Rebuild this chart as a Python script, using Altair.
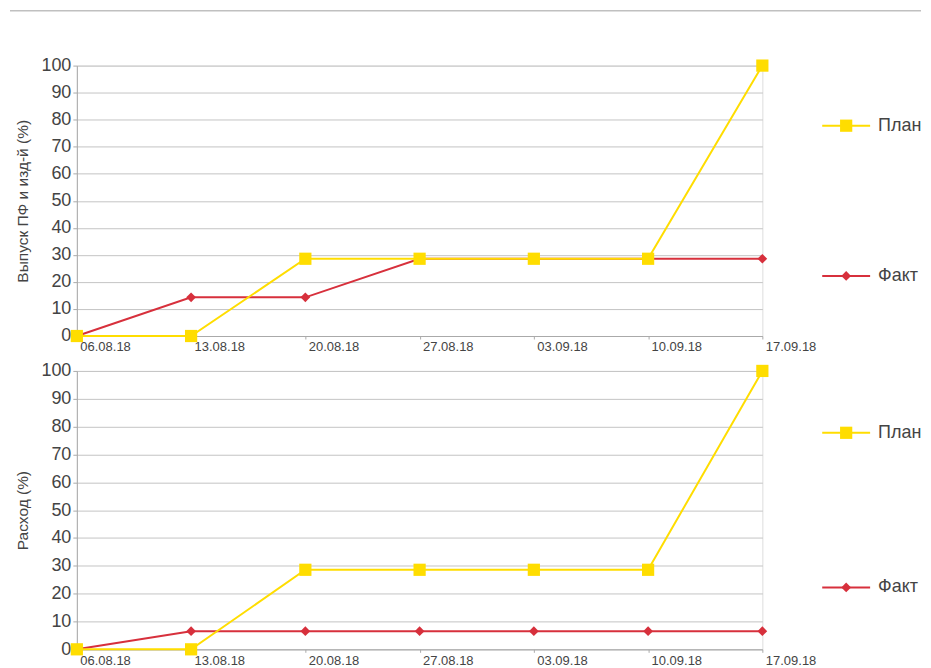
import altair as alt
import pandas as pd

dates = ["06.08.18", "13.08.18", "20.08.18", "27.08.18", "03.09.18", "10.09.18", "17.09.18"]
series = ["План", "Факт"]

top_plan = [0, 0, 28.57, 28.57, 28.57, 28.57, 100]
top_fact = [0, 14.29, 14.29, 28.57, 28.57, 28.57, 28.57]
bot_plan = [0, 0, 28.57, 28.57, 28.57, 28.57, 100]
bot_fact = [0, 6.5, 6.5, 6.5, 6.5, 6.5, 6.5]

top_title = "Выпуск ПФ и изд-й (%)"
bot_title = "Расход (%)"

YELLOW = "#ffdd00"
RED = "#d7303c"
FONT = "Liberation Sans"
TXT = "#444444"
GRID = "#c4c4c4"

color = alt.Color("series:N", scale=alt.Scale(domain=series, range=[YELLOW, RED]), legend=None)
shape = alt.Shape("series:N", scale=alt.Scale(domain=series, range=["square", "diamond"]), legend=None)
size = alt.Size("series:N", scale=alt.Scale(domain=series, range=[150, 95]), legend=None)


def panel(plan, fact, title, h, header=False):
    rows = []
    for d, p, f in zip(dates, plan, fact):
        rows.append({"date": d, "series": "План", "value": p})
        rows.append({"date": d, "series": "Факт", "value": f})
    df = pd.DataFrame(rows)

    x = alt.X("date:O", sort=dates,
              scale=alt.Scale(type="point", padding=0),
              axis=alt.Axis(title=None, labelAngle=0, labelAlign="left", labelBaseline="top",
                            labelOffset=3, labelPadding=2, labelFontSize=13, labelColor=TXT,
                            labelFont=FONT, tickSize=3, tickColor="#aaaaaa",
                            domainColor="#aaaaaa", grid=False, labelOverlap=False))
    y = alt.Y("value:Q", scale=alt.Scale(domain=[0, 100], nice=False, zero=True),
              axis=alt.Axis(values=list(range(0, 101, 10)), title=title, titleFontSize=15.5,
                            titleFontWeight="normal", titleColor=TXT, titleFont=FONT,
                            titlePadding=10, labelFontSize=18, labelColor=TXT, labelFont=FONT,
                            labelPadding=2, gridColor=GRID, domainColor="#aaaaaa",
                            tickSize=4, tickColor="#aaaaaa"))

    base = alt.Chart(df).encode(x=x, y=y, color=color)
    layers = []
    for s in ["Факт", "План"]:
        b = base.transform_filter(alt.datum.series == s)
        layers.append(b.mark_line(strokeWidth=2))
        layers.append(b.mark_point(filled=True, opacity=1).encode(shape=shape, size=size))
    data_layer = alt.layer(*layers)

    leg_df = pd.DataFrame({"series": series})
    ly = alt.Y("series:N", sort=series,
               scale=alt.Scale(type="point", domain=series, padding=0.4), axis=None)
    lb = alt.Chart(leg_df).encode(y=ly, color=color)
    leg_rule = lb.mark_rule(strokeWidth=2).encode(x=alt.value(747), x2=alt.value(795))
    leg_pt = lb.mark_point(filled=True, opacity=1).encode(x=alt.value(771), shape=shape, size=size)
    leg_txt = alt.Chart(leg_df).mark_text(align="left", baseline="middle", fontSize=18,
                                           font=FONT, color=TXT).encode(
        x=alt.value(803), y=ly, text="series:N")
    leg_layer = alt.layer(leg_rule, leg_pt, leg_txt)

    parts = [data_layer, leg_layer]
    if header:
        hdr = alt.Chart(pd.DataFrame({"k": [0]})).mark_rule(color="#c0c0c0", strokeWidth=1.5).encode(
            x=alt.value(-67), x2=alt.value(846), y=alt.value(-55))
        parts.append(hdr)
    return alt.layer(*parts).resolve_scale(y="independent").properties(width=687, height=h)


top = panel(top_plan, top_fact, top_title, 271, header=True)
bot = panel(bot_plan, bot_fact, bot_title, 279)

chart = alt.vconcat(top, bot, spacing=6).properties(
    padding={"left": 0, "top": 0, "right": 0, "bottom": 0}
).configure_view(stroke=None).configure(font=FONT)

chart.save("out.html", embed_options={"renderer": "svg", "actions": False})
